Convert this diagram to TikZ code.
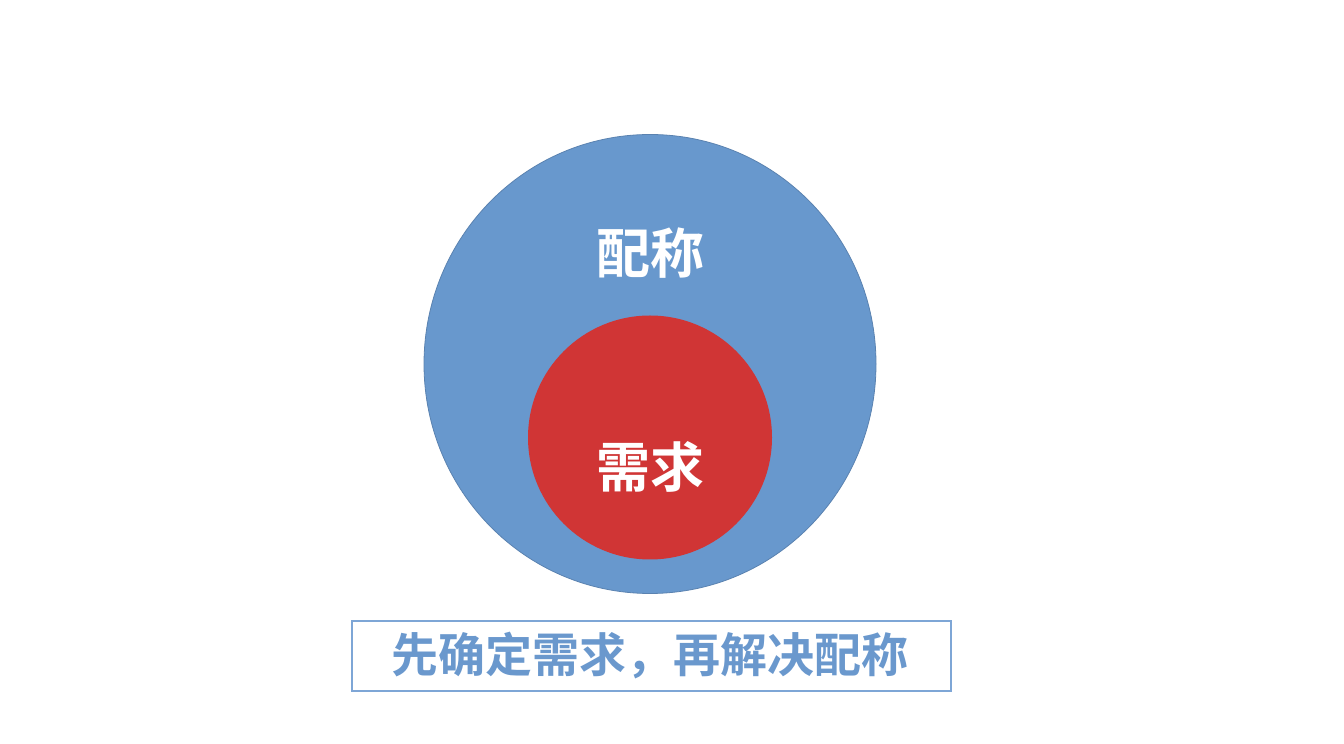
\documentclass[tikz,border=0pt]{standalone}
\usepackage{fontspec}
\usetikzlibrary{shapes.geometric}
\newfontfamily\cjk{Noto Sans CJK SC}[BoldFont={Noto Sans CJK SC Bold}]
\definecolor{bluefill}{HTML}{6898CD}
\definecolor{blueline}{HTML}{5A82B0}
\definecolor{redfill}{HTML}{D03535}
\definecolor{boxline}{HTML}{7EA6D6}
\definecolor{boxtext}{HTML}{6A98CD}
\begin{document}
\begin{tikzpicture}[x=1pt,y=1pt,
  bigtxt/.style={text=white,font=\cjk\bfseries\fontsize{54}{60}\selectfont,inner sep=0pt},
  captxt/.style={text=boxtext,font=\cjk\bfseries\fontsize{47}{54}\selectfont}]
\useasboundingbox (0,0) rectangle (1344,744);
\node (outer) [ellipse,draw=blueline,line width=0.8pt,fill=bluefill,minimum width=452pt,minimum height=459pt,inner sep=0pt] at (650,380) {};
\node (inner) [circle,fill=redfill,minimum size=244pt,inner sep=0pt] at (650,306.5) {};
\node (t1) [bigtxt] at (650,491) {配称};
\node (t2) [bigtxt] at (650,277) {需求};
\node (cap) [draw=boxline,line width=1.2pt,minimum width=599pt,minimum height=70pt,inner sep=0pt] at (651.5,88) {};
\node (captext) [captxt] at (650,88) {先确定需求，再解决配称};
\end{tikzpicture}
\end{document}
